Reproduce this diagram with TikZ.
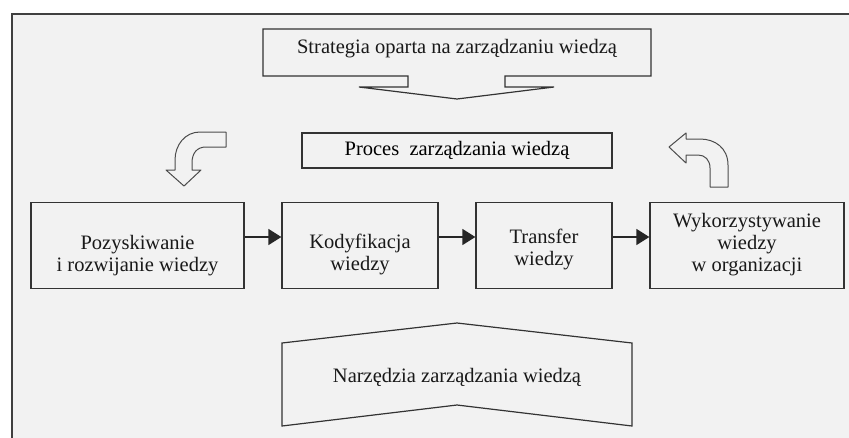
\documentclass[tikz,border=0pt]{standalone}
\usepackage{fontspec}
\setmainfont{Liberation Serif}
\usetikzlibrary{arrows.meta}

\begin{document}
\begin{tikzpicture}
        [x=1pt,y=-1pt,
        every node/.style={font=\fontsize{20.5}{22}\selectfont,inner sep=0pt},
        box/.style={draw=black!80,line width=1.3pt,minimum height=86pt},
        txt/.style={align=center,text=black!90},
        flow/.style={draw=black!85,line width=1.6pt,-{Triangle[length=13pt,width=16pt]}},
        outline/.style={draw=black!80,line width=1.2pt,line join=miter},
        bent/.style={draw=black!70,line width=1pt,line join=round}]
        \useasboundingbox (0,0) rectangle (849,437);
        \clip (0,0) rectangle (849,437);
        \filldraw[fill=black!5,draw=black!75,line width=1.5pt] (12,14) rectangle (880,470);
        % strategia
        \draw[outline] (263,29) -- (651,29) -- (651,76) -- (505,76) -- (505,87) -- (554,87)
            -- (457,99) -- (359,87) -- (408,87) -- (408,76) -- (263,76) -- cycle;
        \node[txt] (strat) at (457,49) {Strategia oparta na zarządzaniu wiedzą};
        % proces
        \node[box,minimum width=310pt,minimum height=35pt] (proces) at (457,150.5)
            {Proces\ \ zarządzania wiedzą};
        \draw[bent] (226,132) -- (200,132) .. controls (185,132) and (175,145) .. (175,160)
            -- (175,170) -- (166,170) -- (184,186) -- (201,170) -- (192,170) -- (192,163)
            .. controls (192,153) and (197,147) .. (206,147) -- (226,147) -- cycle;
        \draw[bent] (710,187) -- (728,187) -- (728,165) .. controls (728,148) and (715,139) .. (700,139)
            -- (686,139) -- (686,133) -- (669,147) -- (686,163) -- (686,155) -- (698,155)
            .. controls (705,155) and (710,160) .. (710,168) -- cycle;
        % etapy
        \node[box,minimum width=213pt] (pozysk) at (137.5,245.5) {};
        \node[box,minimum width=156pt] (kodyf) at (360,245.5) {};
        \node[box,minimum width=136pt] (transf) at (544,245.5) {};
        \node[box,minimum width=194pt] (wykorz) at (747,245.5) {};
        \node[txt] (pozyskT) at ([yshift=-10pt]pozysk.center) {Pozyskiwanie\\i rozwijanie wiedzy};
        \node[txt] (kodyfT) at ([yshift=-9pt]kodyf.center) {Kodyfikacja\\wiedzy};
        \node[txt] (transfT) at ([yshift=-4pt]transf.center) {Transfer\\wiedzy};
        \node[txt] (wykorzT) at ([yshift=1pt]wykorz.center) {Wykorzystywanie\\wiedzy\\w organizacji};
        \draw[flow] ([yshift=8.5pt]pozysk.east) -- ([yshift=8.5pt]kodyf.west);
        \draw[flow] ([yshift=8.5pt]kodyf.east) -- ([yshift=8.5pt]transf.west);
        \draw[flow] ([yshift=8.5pt]transf.east) -- ([yshift=8.5pt]wykorz.west);
        % narzedzia
        \draw[outline] (282,343) -- (457,323) -- (632,343) -- (632,426) -- (457,405)
            -- (282,426) -- cycle;
        \node[txt] (narz) at (457,377) {Narzędzia zarządzania wiedzą};
\end{tikzpicture}
\end{document}
